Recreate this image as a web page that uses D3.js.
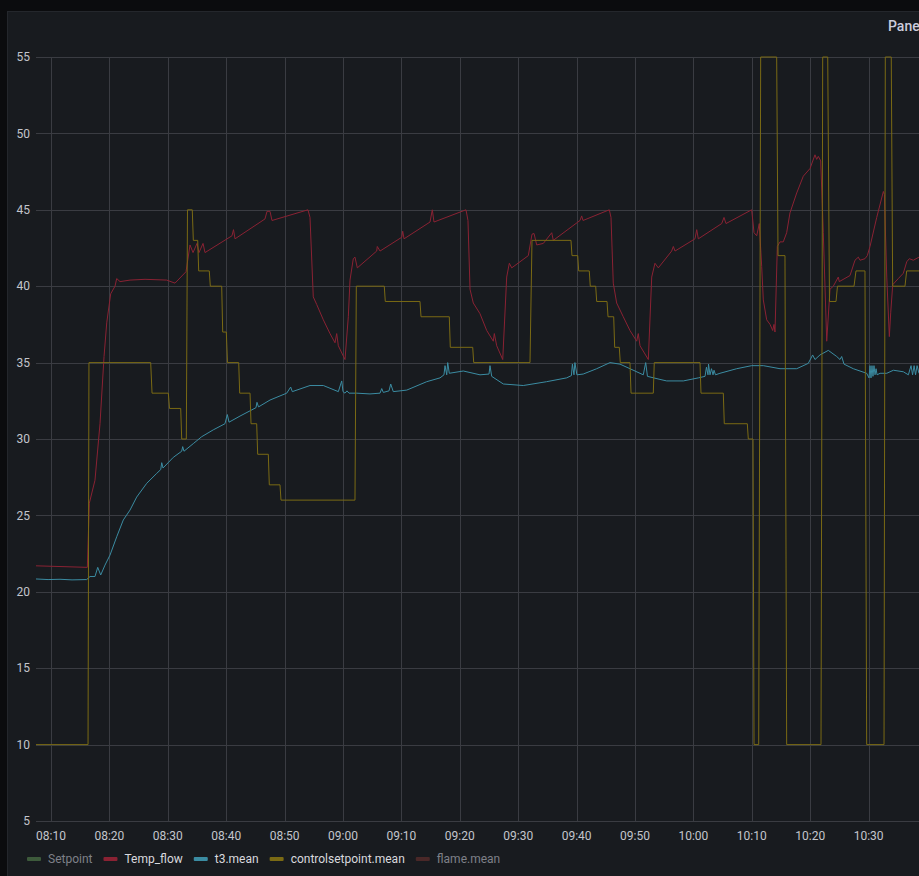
<!DOCTYPE html>
<html>
<head>
<meta charset="utf-8">
<script src="https://cdn.jsdelivr.net/npm/d3@7"></script>
<style>
  html, body { margin: 0; padding: 0; background: #0b0c0e; overflow: hidden; }
  svg { display: block; font-family: Roboto, Inter, "Open Sans", sans-serif; }
</style>
</head>
<body>
<svg id="chart" width="919" height="876"></svg>
<script>
// time values are minutes after 08:00
var startMin = 7.43,
    endMin = 158.63;

var yTicks = [5, 10, 15, 20, 25, 30, 35, 40, 45, 50, 55];

var seriesNames = ["Setpoint", "Temp_flow", "t3.mean", "controlsetpoint.mean", "flame.mean"];
var seriesColors = ["#3d5a3b", "#8a2233", "#3b8ca2", "#7a6a14", "#4a2828"];
var seriesHidden = [true, false, false, false, true];

var tempFlow = [
  [7.43, 21.7], [16.22, 21.6], [16.56, 25.8], [17.53, 27.3], [18.39, 31.0], [19.08, 35.4],
  [19.54, 37.6], [20.22, 39.5], [20.96, 40.0], [21.25, 40.5], [21.82, 40.3], [23.53, 40.4],
  [26.1, 40.45], [29.81, 40.4], [31.23, 40.2], [33.12, 40.95], [33.8, 42.7], [34.32, 42.2],
  [35.0, 42.8], [35.34, 42.2], [36.03, 42.8], [36.37, 42.2], [40.99, 43.3], [41.25, 43.7],
  [41.51, 43.1], [46.64, 44.4], [46.99, 44.9], [47.5, 44.9], [47.84, 44.3], [54.0, 45.0],
  [54.35, 44.5], [54.91, 39.3], [55.5, 38.8], [56.63, 37.8], [57.77, 36.9], [58.63, 36.3],
  [58.92, 36.9], [59.2, 36.1], [60.34, 35.2], [60.91, 38.0], [61.2, 40.4], [61.76, 41.8],
  [62.05, 41.9], [62.45, 41.2], [65.77, 42.3], [65.87, 42.6], [66.34, 42.3], [70.05, 43.2],
  [70.22, 43.6], [70.45, 43.1], [74.9, 44.2], [75.29, 45.0], [75.58, 44.2], [81.06, 45.0],
  [81.4, 44.3], [81.75, 39.8], [82.31, 38.9], [83.46, 38.2], [84.61, 37.1], [85.74, 36.4],
  [85.91, 36.9], [86.32, 36.1], [87.35, 35.2], [88.03, 40.6], [88.48, 41.5], [88.89, 41.2],
  [91.73, 42.0], [92.36, 43.4], [92.71, 43.45], [93.17, 42.7], [94.3, 42.8], [95.74, 43.5],
  [96.01, 43.0], [100.58, 44.3], [100.87, 44.6], [101.1, 44.3], [105.6, 45.0], [105.89, 44.5],
  [106.28, 40.2], [106.86, 38.9], [107.99, 38.0], [109.14, 37.1], [110.29, 36.4], [110.56, 36.9],
  [110.86, 36.1], [112.28, 35.2], [112.86, 40.6], [113.42, 41.5], [113.99, 41.2], [116.28, 42.3],
  [116.56, 42.6], [116.85, 42.3], [120.27, 43.1], [120.57, 43.7], [120.84, 43.1], [124.85, 44.1],
  [125.24, 44.5], [125.58, 44.1], [129.98, 45.0], [130.38, 43.5], [130.84, 43.3], [131.28, 44.1],
  [131.69, 41.3], [131.97, 39.1], [132.55, 37.8], [133.12, 37.5], [133.58, 37.1], [133.8, 37.5],
  [133.97, 37.0], [134.37, 42.6], [134.83, 42.9], [135.39, 42.9], [135.97, 43.5], [136.54, 44.8],
  [137.69, 46.1], [138.82, 47.2], [139.97, 47.7], [140.82, 48.6], [141.11, 48.3], [141.39, 48.5],
  [141.8, 48.2], [142.24, 43.5], [142.83, 36.4], [143.39, 39.8], [143.96, 40.0], [144.81, 40.6],
  [144.98, 40.3], [146.82, 40.7], [147.67, 41.7], [148.24, 41.9], [148.53, 41.7], [149.38, 41.8],
  [149.78, 42.0], [150.24, 42.6], [151.39, 44.5], [152.53, 46.2], [152.7, 46.0], [153.11, 40.6],
  [153.55, 36.7], [153.79, 38.3], [154.13, 40.1], [155.09, 40.5], [155.95, 40.85], [156.53, 41.6],
  [156.97, 41.8], [157.66, 41.7], [158.63, 41.9]
];

var t3Mean = [
  [7.43, 20.84], [9.5, 20.8], [11.54, 20.82], [13.6, 20.78], [16.11, 20.8], [16.68, 21.0],
  [17.53, 21.0], [18.0, 21.6], [18.51, 21.1], [19.25, 21.75], [20.1, 22.4], [21.25, 23.6],
  [22.38, 24.7], [23.53, 25.35], [24.67, 26.2], [26.39, 27.1], [28.1, 27.75], [28.79, 28.0],
  [28.96, 28.45], [29.18, 28.1], [30.94, 28.8], [32.38, 29.2], [32.55, 29.5], [32.77, 29.2],
  [34.37, 29.7], [35.8, 30.15], [37.79, 30.6], [39.79, 31.0], [40.19, 31.6], [40.48, 31.1],
  [42.36, 31.5], [45.1, 32.05], [45.27, 32.4], [45.53, 32.1], [47.5, 32.55], [50.36, 33.0],
  [51.04, 33.4], [51.32, 33.1], [54.35, 33.5], [56.63, 33.5], [59.2, 33.1], [59.78, 33.8],
  [60.0, 33.1], [60.34, 33.0], [60.68, 33.15], [61.03, 33.0], [62.35, 33.0], [64.62, 32.95],
  [66.34, 33.0], [66.63, 33.3], [66.9, 33.05], [67.88, 33.15], [68.17, 33.6], [68.61, 33.1],
  [70.91, 33.2], [74.33, 33.75], [76.61, 34.0], [77.29, 34.2], [77.47, 34.8], [77.76, 34.2],
  [77.93, 35.0], [78.2, 34.3], [80.6, 34.45], [83.46, 34.2], [85.0, 34.25], [85.17, 34.8],
  [85.46, 34.1], [87.45, 33.6], [90.87, 33.5], [94.86, 33.75], [98.29, 34.0], [99.11, 34.15],
  [99.28, 34.9], [99.55, 34.2], [99.71, 35.0], [100.05, 34.2], [101.13, 34.25], [103.44, 34.6],
  [105.72, 35.0], [107.43, 34.9], [109.14, 34.6], [111.42, 34.2], [111.83, 35.0], [112.13, 34.1],
  [114.28, 33.9], [115.43, 33.8], [118.27, 33.8], [120.84, 34.0], [121.99, 34.1], [122.24, 34.7],
  [122.5, 34.2], [122.59, 34.9], [122.84, 34.2], [123.1, 34.6], [123.36, 34.2], [123.53, 34.5],
  [123.78, 34.2], [124.55, 34.3], [127.41, 34.6], [129.98, 34.8], [131.97, 34.8], [134.83, 34.6],
  [137.69, 34.6], [139.67, 34.95], [140.42, 35.5], [140.82, 35.2], [141.67, 35.5], [143.1, 35.8],
  [144.54, 35.4], [145.1, 35.2], [145.39, 35.4], [145.79, 34.9], [147.38, 34.6], [149.67, 34.3],
  [150.07, 34.0], [150.24, 34.8], [150.41, 34.0], [150.58, 34.8], [150.75, 34.1], [150.92, 34.8],
  [151.1, 34.2], [151.28, 34.6], [151.45, 34.2], [151.96, 34.3], [153.11, 34.3], [154.25, 34.5],
  [155.95, 34.4], [156.81, 34.2], [157.27, 34.8], [157.53, 34.2], [157.79, 34.8], [158.04, 34.2],
  [158.3, 34.8], [158.63, 34.3]
];

var controlSetpoint = [
  [7.43, 10], [16.34, 10], [16.5, 35], [27.07, 35], [27.3, 33], [30.09, 33], [30.29, 32],
  [32.21, 32], [32.38, 30], [33.17, 30], [33.37, 45], [34.19, 45], [34.37, 43], [35.12, 43],
  [35.29, 41], [37.1, 41], [37.28, 40], [39.23, 40], [39.4, 37], [40.02, 37], [40.22, 35],
  [42.14, 35], [42.31, 33], [44.08, 33], [44.25, 31], [45.22, 31], [45.39, 29], [47.21, 29],
  [47.38, 27], [49.21, 27], [49.38, 26], [62.05, 26], [62.28, 40], [67.07, 40], [67.24, 39],
  [73.18, 39], [73.36, 38], [78.2, 38], [78.37, 36], [82.21, 36], [82.38, 35], [92.02, 35],
  [92.36, 43], [99.04, 43], [99.21, 42], [100.19, 42], [100.36, 41], [102.17, 41], [102.34, 40],
  [103.27, 40], [103.44, 39], [105.21, 39], [105.38, 38], [106.35, 38], [106.52, 36], [107.31, 36],
  [107.48, 35], [109.14, 35], [109.32, 33], [113.13, 33], [113.3, 35], [121.13, 35], [121.3, 33],
  [125.12, 33], [125.29, 31], [129.23, 31], [129.4, 30], [130.21, 30], [130.38, 10], [131.18, 10],
  [131.52, 55], [134.26, 55], [134.49, 42], [135.68, 42], [135.97, 10], [141.85, 10], [142.14, 55],
  [143.0, 55], [143.3, 39], [144.42, 39], [144.67, 40], [147.5, 40], [147.84, 41], [149.38, 41],
  [149.67, 10], [152.64, 10], [152.86, 55], [153.88, 55], [154.12, 40], [156.23, 40], [156.52, 41],
  [158.63, 41]
];

var setpoint = [];
var flameMean = [];

var seriesData = [setpoint, tempFlow, t3Mean, controlSetpoint, flameMean];

var svg = d3.select("#chart"),
    W = 919, H = 876,
    plot = { left: 36, top: 57, right: 919, bottom: 821 };

var base = new Date(2023, 0, 1, 8, 0, 0);
function at(m) { return new Date(base.getTime() + m * 60000); }

var x = d3.scaleTime()
    .domain([at(startMin), at(endMin)])
    .range([plot.left, plot.right]);

var y = d3.scaleLinear()
    .domain([5, 55])
    .range([plot.bottom, plot.top]);

// panel
svg.append("rect")
    .attr("x", 7.5).attr("y", 11.5)
    .attr("width", W).attr("height", H)
    .attr("fill", "#181b1f")
    .attr("stroke", "#24272c");

// title runs past the right edge, as in the source panel
svg.append("text")
    .attr("x", 888).attr("y", 31)
    .attr("fill", "#ccccdc")
    .style("font-size", "14px")
    .style("font-weight", 500)
    .text("Panel Title");

// grid
var grid = svg.append("g").attr("class", "grid");

grid.selectAll(".hgrid")
    .data(yTicks)
    .enter().append("line")
    .attr("class", "hgrid")
    .attr("x1", plot.left).attr("x2", plot.right)
    .attr("y1", function (d) { return Math.round(y(d)) + 0.5; })
    .attr("y2", function (d) { return Math.round(y(d)) + 0.5; })
    .attr("stroke", "#3a3c42");

var xTicks = x.ticks(d3.timeMinute.every(10));

grid.selectAll(".vgrid")
    .data(xTicks)
    .enter().append("line")
    .attr("class", "vgrid")
    .attr("x1", function (d) { return Math.round(x(d)) + 0.5; })
    .attr("x2", function (d) { return Math.round(x(d)) + 0.5; })
    .attr("y1", plot.top).attr("y2", plot.bottom)
    .attr("stroke", "#3a3c42");

// axes labels
svg.append("g")
    .selectAll("text")
    .data(yTicks)
    .enter().append("text")
    .attr("x", 30)
    .attr("y", function (d) { return y(d); })
    .attr("dy", "0.35em")
    .attr("text-anchor", "end")
    .attr("fill", "#c3c5cc")
    .style("font-size", "12px")
    .text(function (d) { return d; });

svg.append("g")
    .selectAll("text")
    .data(xTicks)
    .enter().append("text")
    .attr("x", function (d) { return x(d); })
    .attr("y", 840)
    .attr("text-anchor", "middle")
    .attr("fill", "#c3c5cc")
    .style("font-size", "12px")
    .text(d3.timeFormat("%H:%M"));

// lines
svg.append("clipPath").attr("id", "plotClip")
    .append("rect")
    .attr("x", plot.left).attr("y", plot.top - 2)
    .attr("width", plot.right - plot.left).attr("height", plot.bottom - plot.top + 4);

var line = d3.line()
    .x(function (d) { return x(at(d[0])); })
    .y(function (d) { return y(d[1]); });

svg.append("g")
    .attr("clip-path", "url(#plotClip)")
    .selectAll("path")
    .data(seriesData.map(function (d, i) { return { values: d, i: i }; })
        .filter(function (d) { return !seriesHidden[d.i] && d.values.length; }))
    .enter().append("path")
    .attr("d", function (d) { return line(d.values); })
    .attr("fill", "none")
    .attr("stroke", function (d) { return seriesColors[d.i]; })
    .attr("stroke-width", 1)
    .attr("stroke-linejoin", "round");

// legend
var legend = svg.append("g").attr("class", "legend"),
    lx = 27;

seriesNames.forEach(function (name, i) {
    var item = legend.append("g").attr("transform", "translate(" + lx + ",859)");
    item.append("rect")
        .attr("x", 0).attr("y", -2)
        .attr("width", 14).attr("height", 4)
        .attr("rx", 1)
        .attr("fill", seriesColors[i]);
    var label = item.append("text")
        .attr("x", 21).attr("dy", "0.35em")
        .attr("fill", seriesHidden[i] ? "#7e8088" : "#d8d9de")
        .style("font-size", "12px")
        .text(name);
    lx += 21 + label.node().getComputedTextLength() + 11;
});
</script>
</body>
</html>
